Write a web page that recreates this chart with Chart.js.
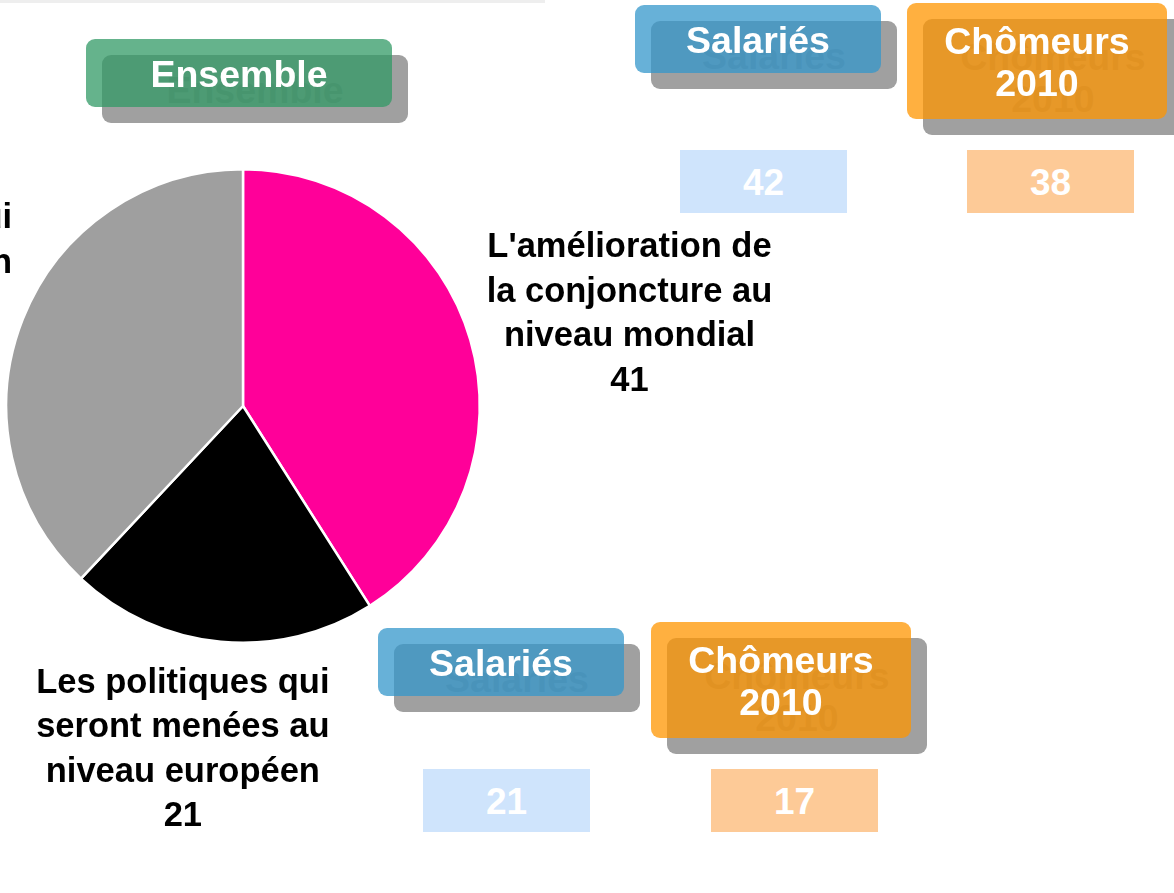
<!DOCTYPE html>
<html>
<head>
<meta charset="utf-8">
<script src="https://cdn.jsdelivr.net/npm/chart.js@4.4.1/dist/chart.umd.min.js"></script>
<style>
  html, body { margin: 0; padding: 0; background: #fff; }
  #page { position: relative; width: 1174px; height: 893px; overflow: hidden;
          font-family: "Liberation Sans", Arial, sans-serif; font-weight: bold; }
  #chart-pie { position: absolute; left: 0; top: 0; }
  .topline { position: absolute; left: 0; top: 0; width: 545px; height: 3px; background: #eeeeee; }
  .tag { position: absolute; border-radius: 9px; color: #fff; font-size: 37.5px; line-height: 42px;
         display: flex; align-items: center; justify-content: center; text-align: center; padding-top: 2px; box-sizing: border-box; }
  .tag.shadow { background: #a0a0a0; color: #888888; }
  .val { position: absolute; color: #fff; font-size: 37px; display: flex; padding-top: 2px; box-sizing: border-box;
         align-items: center; justify-content: center; }
</style>
</head>
<body>
<div id="page">
  <canvas id="chart-pie" width="1174" height="893"></canvas>
  <div class="topline"></div>
</div>
<script>
// pie slices (Ensemble)
var categories = [
  ["L'amélioration de", "la conjoncture au", "niveau mondial"],
  ["Les politiques qui", "seront menées au", "niveau européen"],
  ["Les politiques qui", "seront menées en", "France"]
];
var ensembleValues = [41, 21, 38];
var sliceColors = ["#ff0099", "#000000", "#9f9f9f"];

// side boxes
var groups = ["Salariés", "Chômeurs<br>2010"];
var salariesValues = [42, 21];   // mondial, européen
var chomeursValues = [38, 17];

var page = document.getElementById("page");

function tag(text, x, y, w, h, color) {
  var s = document.createElement("div");
  s.className = "tag shadow";
  s.style.cssText = "left:" + (x + 16) + "px;top:" + (y + 16) + "px;width:" + w + "px;height:" + h + "px";
  s.innerHTML = text;
  page.appendChild(s);
  var t = document.createElement("div");
  t.className = "tag";
  t.style.cssText = "left:" + x + "px;top:" + y + "px;width:" + w + "px;height:" + h + "px;background:" + color;
  t.innerHTML = text;
  page.appendChild(t);
}

function valBox(v, x, y, color) {
  var d = document.createElement("div");
  d.className = "val";
  d.style.cssText = "left:" + x + "px;top:" + y + "px;width:167px;height:63px;background:" + color;
  d.textContent = v;
  page.appendChild(d);
}

tag("Ensemble", 86, 39, 306, 68, "rgba(50,153,101,0.75)");

// mondial row (top) and européen row (bottom)
var rows = [{ sx: 635, sy: 5, cx: 907, cy: 3, vy: 150, vx1: 680, vx2: 967 },
            { sx: 378, sy: 628, cx: 651, cy: 622, vy: 769, vx1: 423, vx2: 711 }];
rows.forEach(function(r, i) {
  tag(groups[0], r.sx, r.sy, 246, 68, "rgba(52,151,203,0.75)");
  tag(groups[1], r.cx, r.cy, 260, 116, "rgba(255,149,0,0.75)");
  valBox(salariesValues[i], r.vx1, r.vy, "#cfe4fc");
  valBox(chomeursValues[i], r.vx2, r.vy, "#fdca97");
});

// labels placed outside each slice, along its middle angle (x / y reach in radii)
var labelReachX = [1.70, 2.70, 1.715];
var labelReachY = [1.385, 1.46, 1.385];
var sliceLabels = {
  id: "sliceLabels",
  afterDraw: function(chart) {
    var ctx = chart.ctx;
    var arcs = chart.getDatasetMeta(0).data;
    ctx.save();
    ctx.fillStyle = "#000";
    ctx.font = "bold 34.5px 'Liberation Sans', Arial, sans-serif";
    ctx.textAlign = "center";
    ctx.textBaseline = "middle";
    arcs.forEach(function(arc, i) {
      var mid = (arc.startAngle + arc.endAngle) / 2;
      var x = arc.x + Math.cos(mid) * arc.outerRadius * labelReachX[i];
      var y = arc.y + Math.sin(mid) * arc.outerRadius * labelReachY[i];
      var lines = categories[i].concat([String(ensembleValues[i])]);
      var lh = 44.5;
      var y0 = y - (lines.length - 1) * lh / 2;
      lines.forEach(function(l, k) { ctx.fillText(l, x, y0 + k * lh); });
    });
    ctx.restore();
  }
};

var chartPieCanvas = document.getElementById("chart-pie");
var chartPie = new Chart(chartPieCanvas.getContext("2d"), {
  type: "pie",
  plugins: [sliceLabels],
  data: {
    labels: categories.map(function(c) { return c.join(" "); }),
    datasets: [{
      data: ensembleValues,
      backgroundColor: sliceColors,
      borderColor: "#ffffff",
      borderWidth: 2.5,
      hoverOffset: 0
    }]
  },
  options: {
    responsive: false,
    animation: false,
    layout: { padding: { left: 5, top: 168, right: 693, bottom: 249 } },
    plugins: {
      legend: { display: false },
      tooltip: { enabled: false }
    }
  }
});
</script>
</body>
</html>
